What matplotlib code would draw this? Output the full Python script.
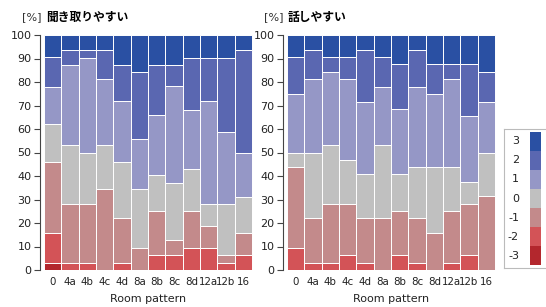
import numpy as np
import matplotlib.pyplot as plt

# ----------------------------
# Datos (porcentaje por nivel, de -3 a 3)
# ----------------------------
rooms = ['0', '4a', '4b', '4c', '4d', '8a', '8b', '8c', '8d', '12a', '12b', '16']
levels = [-3, -2, -1, 0, 1, 2, 3]
colors = ['#B3272D', '#D35357', '#C38A8B', '#C0C0C0', '#9597C6', '#5A67B1', '#2A50A3']

# 聞き取りやすい
listen = {
    -3: [3.1, 0, 0, 0, 0, 0, 0, 0, 0, 0, 0, 0],
    -2: [12.5, 3.1, 3.1, 0, 3.1, 0, 6.3, 6.3, 9.4, 9.4, 3.1, 6.3],
    -1: [30.4, 25.0, 25.0, 34.4, 19.1, 9.4, 18.8, 6.3, 15.7, 9.3, 3.2, 9.3],
    0:  [16.0, 24.9, 21.7, 18.6, 23.8, 25.0, 15.5, 24.3, 17.9, 9.5, 21.9, 15.5],
    1:  [16.0, 34.3, 40.6, 28.2, 25.8, 21.4, 25.2, 41.2, 25.2, 43.6, 30.6, 18.7],
    2:  [12.5, 6.4, 3.3, 12.5, 15.5, 28.6, 21.5, 9.2, 22.2, 18.6, 31.6, 43.9],
    3:  [9.5, 6.3, 6.3, 6.3, 12.7, 15.6, 12.7, 12.7, 9.6, 9.6, 9.6, 6.3],
}

# 話しやすい
speak = {
    -3: [0, 0, 0, 0, 0, 0, 0, 0, 0, 0, 0, 0],
    -2: [9.3, 3.1, 3.1, 6.3, 3.1, 0, 6.3, 3.1, 0, 3.1, 6.3, 0],
    -1: [34.4, 19.1, 25.1, 21.9, 19.1, 22.2, 18.9, 19.1, 15.6, 22.1, 21.9, 31.3],
    0:  [6.3, 27.8, 24.9, 18.7, 18.6, 30.9, 15.6, 21.5, 28.1, 18.5, 9.1, 18.7],
    1:  [25.0, 31.3, 31.2, 34.4, 30.9, 24.7, 27.9, 34.1, 31.3, 37.6, 28.2, 21.7],
    2:  [15.7, 12.5, 6.4, 9.4, 22.1, 12.9, 19.0, 16.0, 12.7, 6.4, 22.2, 12.6],
    3:  [9.3, 6.2, 9.3, 9.3, 6.2, 9.3, 12.3, 6.2, 12.3, 12.3, 12.3, 15.7],
}

# ----------------------------
# Figura
# ----------------------------
W, H = 546, 307
plt.rcParams['font.family'] = ['DejaVu Sans', 'Noto Sans CJK JP']
fig = plt.figure(figsize=(W / 100, H / 100), dpi=100)


def px_axes(x0, y0, x1, y1):
    return fig.add_axes([x0 / W, 1 - y1 / H, (x1 - x0) / W, (y1 - y0) / H])


def stacked(ax, data, title, tx):
    x = np.arange(len(rooms))
    bottom = np.zeros(len(rooms))
    for lv, c in zip(levels, colors):
        vals = np.array(data[lv], dtype=float)
        ax.bar(x, vals, bottom=bottom, width=1.0, color=c,
               edgecolor='white', linewidth=0.7)
        bottom += vals
    ax.set_xlim(-0.73, len(rooms) - 0.27)
    ax.set_ylim(0, 100)
    ax.set_yticks(np.arange(0, 101, 10))
    ax.set_xticks(x)
    ax.set_xticklabels(rooms)
    ax.tick_params(axis='x', length=0, pad=5, labelsize=7.4, colors='#222222')
    ax.tick_params(axis='y', length=4, width=0.8, labelsize=8, colors='#222222',
                   color='#444444', pad=2)
    for s in ['top', 'right', 'bottom']:
        ax.spines[s].set_visible(False)
    ax.spines['left'].set_color('#444444')
    ax.set_xlabel('Room pattern', fontsize=8, color='#222222', labelpad=5)
    fig.text(tx / W, 1 - 17 / H, '[%]', fontsize=8, color='#333333', va='center')
    fig.text((tx + 24) / W, 1 - 17 / H, title, fontsize=8.5, fontweight='bold',
             family=['Noto Sans CJK JP'], va='center')


ax1 = px_axes(40, 35, 256, 270)
stacked(ax1, listen, '聞き取りやすい', 22)
ax2 = px_axes(283, 35, 499, 270)
stacked(ax2, speak, '話しやすい', 264)

# ----------------------------
# Leyenda (escala de colores)
# ----------------------------
lax = px_axes(504, 129, 560, 268)
lax.set_xlim(0, 56)
lax.set_ylim(-0.15 - 3.5, 3.5 + 0.15)
lax.barh(levels, [11] * len(levels), left=26, height=1.0, color=colors,
         edgecolor='none')
for lv in levels:
    lax.text(15, lv, str(lv), ha='right', va='center', fontsize=8, color='#222222')
lax.set_xticks([])
lax.set_yticks([])
for s in lax.spines.values():
    s.set_color('#BBBBBB')
    s.set_linewidth(0.8)

fig.savefig('out.png', dpi=100)
